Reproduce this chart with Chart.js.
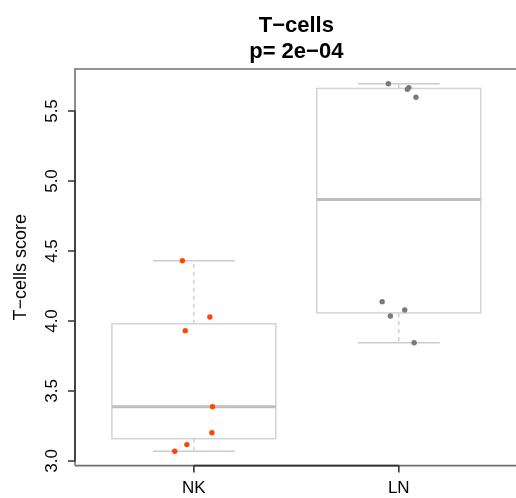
<!DOCTYPE html>
<html>
<head>
<meta charset="utf-8">
<script src="https://cdn.jsdelivr.net/npm/chart.js@4/dist/chart.umd.min.js"></script>
<style>
  html, body { margin: 0; padding: 0; background: #fff; overflow: hidden; }
</style>
</head>
<body>
<canvas id="chart" width="516" height="498"></canvas>
<script>
const categories = ["NK", "LN"];
const titleLines = ["T\u2212cells", "p= 2e\u221204"];
const yTitle = "T\u2212cells score";
const yTicks = [3.0, 3.5, 4.0, 4.5, 5.0, 5.5];

// scores per sample
const nkValues = [4.43, 4.029, 3.931, 3.388, 3.202, 3.117, 3.07];
const lnValues = [5.695, 5.667, 5.655, 5.598, 4.138, 4.079, 4.036, 3.845];
// horizontal jitter of each dot (group 1 = NK, 2 = LN)
const nkJitter = [0.944, 1.078, 0.958, 1.091, 1.088, 0.966, 0.907];
const lnJitter = [1.949, 2.049, 2.042, 2.084, 1.919, 2.029, 1.959, 2.075];

const groups = [nkValues, lnValues];

// tukey five-number summary, like R's boxplot
function fivenum(arr) {
  const s = [...arr].sort((a, b) => a - b);
  const n = s.length;
  const n4 = Math.floor((n + 3) / 2) / 2;
  const d = [1, n4, (n + 1) / 2, n + 1 - n4, n];
  return d.map((k) => 0.5 * (s[Math.floor(k) - 1] + s[Math.ceil(k) - 1]));
}

const FONT = "'Liberation Sans', Arial, sans-serif";

const boxPlugin = {
  id: "rbox",
  beforeDatasetsDraw(chart) {
    const { ctx, scales: { x, y } } = chart;
    ctx.save();
    groups.forEach((vals, i) => {
      const [lo, q1, med, q3, hi] = fivenum(vals);
      const c = i + 1;
      const bl = x.getPixelForValue(c - 0.4), br = x.getPixelForValue(c + 0.4);
      const sl = x.getPixelForValue(c - 0.2), sr = x.getPixelForValue(c + 0.2);
      const cx = x.getPixelForValue(c);
      // whiskers
      ctx.strokeStyle = "#c8c8c8";
      ctx.lineWidth = 1.3;
      ctx.setLineDash([4, 4]);
      ctx.beginPath();
      ctx.moveTo(cx, y.getPixelForValue(q3)); ctx.lineTo(cx, y.getPixelForValue(hi));
      ctx.moveTo(cx, y.getPixelForValue(q1)); ctx.lineTo(cx, y.getPixelForValue(lo));
      ctx.stroke();
      ctx.setLineDash([]);
      // staples
      ctx.strokeStyle = "#cbcbcb";
      ctx.lineWidth = 1.5;
      ctx.beginPath();
      ctx.moveTo(sl, y.getPixelForValue(hi)); ctx.lineTo(sr, y.getPixelForValue(hi));
      ctx.moveTo(sl, y.getPixelForValue(lo)); ctx.lineTo(sr, y.getPixelForValue(lo));
      ctx.stroke();
      // box
      ctx.strokeStyle = "#d3d3d3";
      ctx.lineWidth = 1.5;
      const top = y.getPixelForValue(q3), bot = y.getPixelForValue(q1);
      ctx.strokeRect(bl, top, br - bl, bot - top);
      // median
      ctx.strokeStyle = "#bebebe";
      ctx.lineWidth = 3;
      ctx.beginPath();
      ctx.moveTo(bl, y.getPixelForValue(med)); ctx.lineTo(br, y.getPixelForValue(med));
      ctx.stroke();
    });
    ctx.restore();
  },
  afterDraw(chart) {
    const { ctx, chartArea: a, scales: { x, y } } = chart;
    ctx.save();
    // frame
    ctx.strokeStyle = "#707070";
    ctx.lineWidth = 1.6;
    ctx.beginPath();
    ctx.moveTo(a.left, a.bottom); ctx.lineTo(a.left, a.top); ctx.lineTo(a.right + 5, a.top);
    ctx.moveTo(a.left, a.bottom); ctx.lineTo(a.right + 5, a.bottom);
    ctx.stroke();

    // y axis
    ctx.strokeStyle = "#333";
    ctx.beginPath();
    ctx.moveTo(a.left, y.getPixelForValue(yTicks[0]));
    ctx.lineTo(a.left, y.getPixelForValue(yTicks[yTicks.length - 1]));
    yTicks.forEach((t) => {
      const py = y.getPixelForValue(t);
      ctx.moveTo(a.left - 7, py); ctx.lineTo(a.left, py);
    });
    // x axis
    ctx.moveTo(x.getPixelForValue(1), a.bottom);
    ctx.lineTo(x.getPixelForValue(categories.length), a.bottom);
    categories.forEach((_, i) => {
      const px = x.getPixelForValue(i + 1);
      ctx.moveTo(px, a.bottom); ctx.lineTo(px, a.bottom + 7);
    });
    ctx.stroke();

    ctx.fillStyle = "#000";
    ctx.font = "17px " + FONT;
    ctx.textAlign = "center";
    ctx.textBaseline = "alphabetic";
    categories.forEach((c, i) => {
      ctx.fillText(c, x.getPixelForValue(i + 1), 493);
    });
    yTicks.forEach((t) => {
      ctx.save();
      ctx.translate(57, y.getPixelForValue(t));
      ctx.rotate(-Math.PI / 2);
      ctx.fillText(t.toFixed(1), 0, 0);
      ctx.restore();
    });
    ctx.font = "18px " + FONT;
    ctx.save();
    ctx.translate(26, (a.top + a.bottom) / 2);
    ctx.rotate(-Math.PI / 2);
    ctx.fillText(yTitle, 0, 0);
    ctx.restore();

    // title
    ctx.font = "bold 22px " + FONT;
    const mid = x.getPixelForValue(1.5);
    ctx.fillText(titleLines[0], mid, 32);
    ctx.fillText(titleLines[1], mid, 58);
    ctx.restore();
  }
};

new Chart(document.getElementById("chart"), {
  type: "scatter",
  data: {
    datasets: [
      {
        label: categories[0],
        data: nkValues.map((v, i) => ({ x: nkJitter[i], y: v })),
        backgroundColor: "#ff4500",
        pointRadius: 2.7,
        borderWidth: 0,
      },
      {
        label: categories[1],
        data: lnValues.map((v, i) => ({ x: lnJitter[i], y: v })),
        backgroundColor: "#7a7a7a",
        pointRadius: 2.7,
        borderWidth: 0,
      },
    ],
  },
  options: {
    responsive: false,
    animation: false,
    layout: { autoPadding: false, padding: { left: 75, top: 69, right: 0, bottom: 32.4 } },
    plugins: { legend: { display: false }, tooltip: { enabled: false } },
    scales: {
      x: { type: "linear", min: 0.42, max: 2.572, display: false },
      y: { type: "linear", min: 2.967, max: 5.8, display: false },
    },
  },
  plugins: [boxPlugin],
});
</script>
</body>
</html>
